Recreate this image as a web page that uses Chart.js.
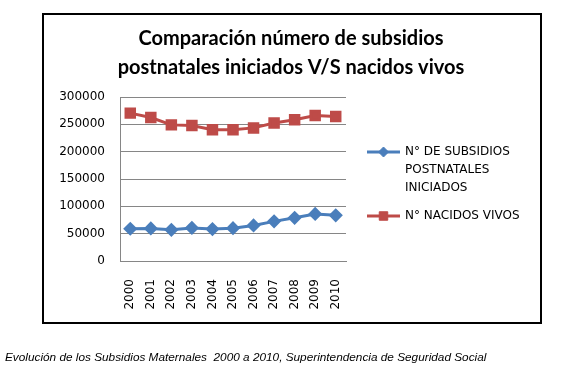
<!DOCTYPE html>
<html>
<head>
<meta charset="utf-8">
<script src="https://cdn.jsdelivr.net/npm/chart.js@4/dist/chart.umd.min.js"></script>
<style>
  html, body { margin: 0; padding: 0; background: #fff; }
  #wrap { position: relative; width: 582px; height: 376px; overflow: hidden; }
  #myChart { position: absolute; left: 0; top: 0; }
  #marco { position: absolute; left: 42px; top: 13px; width: 496px; height: 307px; border: 2px solid #000; pointer-events: none; }
  #fuente { position: absolute; left: 5px; top: 350px; font: italic 11.8px 'Liberation Sans', Arial, sans-serif; color: #000; white-space: pre; }
</style>
</head>
<body>
<div id="wrap">
  <canvas id="myChart" width="582" height="376"></canvas>
  <div id="marco"></div>
  <div id="fuente">Evolución de los Subsidios Maternales  2000 a 2010, Superintendencia de Seguridad Social</div>
</div>
<script>
// Datos
const anios = ['2000', '2001', '2002', '2003', '2004', '2005', '2006', '2007', '2008', '2009', '2010'];
const subsidiosPostnatales = [59000, 59500, 57000, 60500, 58500, 60000, 65000, 72500, 79000, 86000, 83500];
const nacidosVivos = [270500, 262500, 249000, 248000, 240000, 240000, 243500, 252500, 258500, 266000, 264500];
const ticksY = [0, 50000, 100000, 150000, 200000, 250000, 300000];
const nombresSeries = [
    ['N° DE SUBSIDIOS', 'POSTNATALES', 'INICIADOS'],
    ['N° NACIDOS VIVOS']
];
const tituloLineas = ['Comparación número de subsidios', 'postnatales iniciados V/S nacidos vivos'];

const fuenteEje = "'DejaVu Sans', Verdana, sans-serif";
const colorGris = '#868686';

// Titulo centrado en el marco (no en el area del grafico)
const tituloPlugin = {
    id: 'tituloCentrado',
    afterDraw(chart) {
        const ctx = chart.ctx;
        ctx.save();
        ctx.font = "bold 20px Lato, 'Open Sans', sans-serif";
        ctx.fillStyle = '#000';
        ctx.textAlign = 'center';
        ctx.textBaseline = 'middle';
        tituloLineas.forEach((t, i) => {
            ctx.fillText(t, 291, 39 + i * 29);
        });
        ctx.restore();
    }
};

// Leyenda dibujada a mano (las etiquetas van en varias lineas)
const leyendaPlugin = {
    id: 'leyendaMultilinea',
    afterDraw(chart) {
        const ctx = chart.ctx;
        const area = chart.chartArea;
        const x0 = area.right + 21;
        let y = 152;
        ctx.save();
        ctx.font = '12px ' + fuenteEje;
        ctx.textBaseline = 'middle';
        chart.data.datasets.forEach((ds, i) => {
            const lineas = nombresSeries[i];
            ctx.strokeStyle = ds.borderColor;
            ctx.lineWidth = 3;
            ctx.beginPath();
            ctx.moveTo(x0, y);
            ctx.lineTo(x0 + 33, y);
            ctx.stroke();
            ctx.fillStyle = ds.pointBackgroundColor;
            ctx.strokeStyle = ds.pointBorderColor;
            ctx.lineWidth = 1;
            Chart.helpers.drawPoint(ctx, {
                pointStyle: ds.pointStyle,
                radius: ds.pointRadius,
                borderWidth: 1
            }, x0 + 16.5, y);
            ctx.fillStyle = '#000';
            lineas.forEach((t, j) => {
                ctx.fillText(t, x0 + 38, y + j * 18);
            });
            y += (lineas.length - 1) * 18 + 28;
        });
        ctx.restore();
    }
};

const ctx = document.getElementById('myChart').getContext('2d');

const myChart = new Chart(ctx, {
    type: 'line',
    data: {
        labels: anios,
        datasets: [{
            label: nombresSeries[0].join(' '),
            data: subsidiosPostnatales,
            borderColor: '#4A7EBB',
            backgroundColor: '#4A7EBB',
            pointBackgroundColor: '#4A7EBB',
            pointBorderColor: '#4A7EBB',
            pointStyle: 'rectRot',
            pointRadius: 5,
            borderWidth: 3,
            tension: 0
        }, {
            label: nombresSeries[1].join(' '),
            data: nacidosVivos,
            borderColor: '#BE4B48',
            backgroundColor: '#BE4B48',
            pointBackgroundColor: '#BE4B48',
            pointBorderColor: '#BE4B48',
            pointStyle: 'rect',
            pointRadius: 6,
            borderWidth: 3,
            tension: 0
        }]
    },
    options: {
        responsive: false,
        animation: false,
        layout: {
            padding: { left: 50, right: 236, top: 97, bottom: 65 }
        },
        plugins: {
            title: { display: false },
            legend: { display: false },
            tooltip: { enabled: false }
        },
        scales: {
            x: {
                offset: true,
                grid: { display: false },
                border: { display: true, color: colorGris, width: 1 },
                ticks: {
                    color: '#000',
                    minRotation: 90,
                    maxRotation: 90,
                    padding: 10,
                    font: { size: 12, family: fuenteEje }
                },
                afterFit(scale) { scale.height = 50; }
            },
            y: {
                min: 0,
                max: 300000,
                grid: { color: colorGris, drawTicks: false },
                border: { display: true, color: colorGris, width: 1 },
                afterBuildTicks(scale) {
                    scale.ticks = ticksY.map(v => ({ value: v }));
                },
                ticks: {
                    color: '#000',
                    padding: 15,
                    font: { size: 12, family: fuenteEje },
                    callback: (v) => String(v)
                },
                afterFit(scale) { scale.width = 70; }
            }
        }
    },
    plugins: [tituloPlugin, leyendaPlugin]
});
</script>
</body>
</html>
